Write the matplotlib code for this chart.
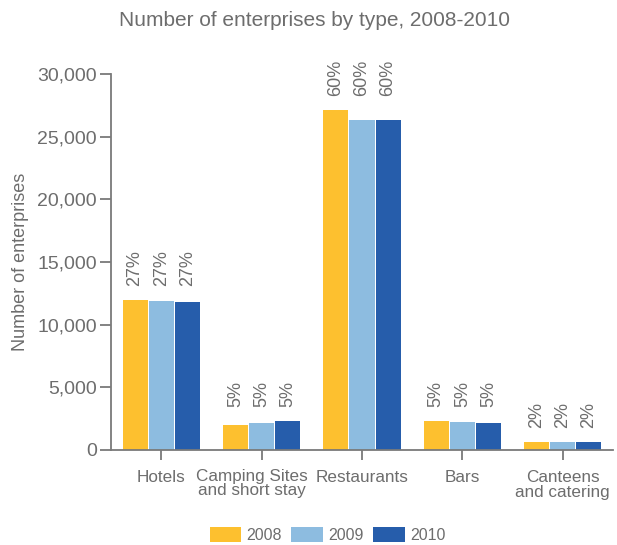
"""
Number of enterprises by type, 2008-2010
"""
import numpy as np
import matplotlib
matplotlib.use("Agg")
import matplotlib.pyplot as plt

categories = ["Hotels", "Camping Sites\nand short stay", "Restaurants", "Bars", "Canteens\nand catering"]
years = ["2008", "2009", "2010"]
values_2008 = [12000, 2000, 27150, 2350, 650]
values_2009 = [11900, 2150, 26350, 2250, 650]
values_2010 = [11800, 2350, 26350, 2150, 650]
shares = ["27%", "5%", "60%", "5%", "2%"]   # 各年份占比相同

colors = ["#FDC02F", "#8DBCE0", "#265DAB"]
grey = "#6d6d6d"

plt.rcParams['font.family'] = ['Liberation Sans', 'DejaVu Sans']

fig = plt.figure(figsize=(6.17, 5.45), dpi=100)
ax = fig.add_axes([111 / 617, 1 - 450 / 545, 502 / 617, 376 / 545])

x = np.arange(len(categories))
width = 0.25
step = 0.26
series = [values_2008, values_2009, values_2010]
for i, (year, vals) in enumerate(zip(years, series)):
    ax.bar(x + (i - 1) * step, vals, width, color=colors[i], label=year, zorder=2)

# 百分比标签放在每组最高柱子上方
for j in range(len(categories)):
    top = max(s[j] for s in series)
    for i in range(3):
        ax.annotate(shares[j], (x[j] + (i - 1) * step, top), xytext=(0, 10),
                    textcoords="offset points", rotation=90, ha="center", va="bottom",
                    fontsize=13, color=grey, annotation_clip=False)

ax.set_xlim(-0.5, 4.5)
ax.set_ylim(0, 30000)
ax.set_yticks(range(0, 30001, 5000))
ax.set_yticklabels([f"{v:,}" for v in range(0, 30001, 5000)])
ax.set_xticks(x)
# Camping Sites 的标签单独画，往左挪一点
ax.set_xticklabels([c if j != 1 else "" for j, c in enumerate(categories)], linespacing=0.95)
ax.annotate(categories[1], (x[1], 0), xycoords=("data", "axes fraction"), xytext=(-10, -19),
            textcoords="offset pixels", ha="center", va="top", fontsize=12.3, color=grey,
            linespacing=0.95, annotation_clip=False)

for side in ["top", "right"]:
    ax.spines[side].set_visible(False)
for side in ["left", "bottom"]:
    ax.spines[side].set_color("#7a7a7a")
    ax.spines[side].set_linewidth(1.3)

ax.tick_params(axis="y", colors="#7a7a7a", labelcolor=grey, labelsize=14, length=8, width=1.3, pad=2)
ax.tick_params(axis="x", colors="#7a7a7a", labelcolor=grey, labelsize=12.3, length=7, width=1.3, pad=7.5)
ax.set_ylabel("Number of enterprises", fontsize=13, color=grey, labelpad=6)

fig.text(0.51, 0.962, "Number of enterprises by type, 2008-2010", ha="center", va="center",
         fontsize=15, color=grey)

ax.legend(loc="lower center", bbox_to_anchor=(0.431, -0.285), ncol=3, frameon=False,
          fontsize=11.5, handlelength=2.0, handleheight=1.1, handletextpad=0.3,
          columnspacing=0.6, labelcolor=grey)

fig.savefig("out.png", dpi=100)
